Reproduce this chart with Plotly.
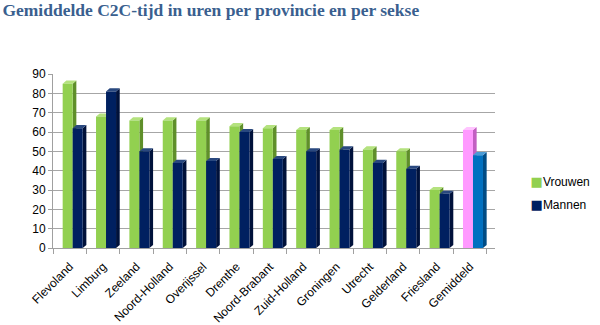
import plotly.graph_objects as go

provinces = ["Flevoland", "Limburg", "Zeeland", "Noord-Holland", "Overijssel", "Drenthe",
             "Noord-Brabant", "Zuid-Holland", "Groningen", "Utrecht", "Gelderland",
             "Friesland", "Gemiddeld"]
vrouwen = [85, 68, 66, 66, 66, 63, 62, 61, 61, 51, 50, 30, 61]
mannen = [62, 81, 50, 44, 45, 60, 46, 50, 51, 44, 41, 28, 48]
y_ticks = [0, 10, 20, 30, 40, 50, 60, 70, 80, 90]

# geometry of the pseudo-3D bars (category units / value units)
W = 0.30      # front face width
DX = 0.11     # depth offset to the right
DY = 1.6      # depth offset upwards
OFF_V = -0.21
OFF_M = 0.09

def faces(vals, idxs, off):
    fx, fy, sx, sy, tx, ty = [], [], [], [], [], []
    for i in idxs:
        v = vals[i]
        l = i + 0.5 + off
        r = l + W
        fx += [l, r, r, l, l, None]
        fy += [0, 0, v, v, 0, None]
        sx += [r, r + DX, r + DX, r, r, None]
        sy += [0, DY, v + DY, v, 0, None]
        tx += [l, r, r + DX, l + DX, l, None]
        ty += [v, v, v + DY, v + DY, v, None]
    return (fx, fy), (sx, sy), (tx, ty)

fig = go.Figure()

def add_series(vals, idxs, off, c_front, c_side, c_top):
    (fx, fy), (sx, sy), (tx, ty) = faces(vals, idxs, off)
    for (x, y, c) in [(sx, sy, c_side), (tx, ty, c_top), (fx, fy, c_front)]:
        fig.add_trace(go.Scatter(x=x, y=y, mode="lines", fill="toself", fillcolor=c,
                                 line=dict(width=0, color=c), hoverinfo="skip",
                                 showlegend=False))

n = len(provinces)
reg = list(range(n - 1))
avg = [n - 1]
add_series(vrouwen, reg, OFF_V, "#92D050", "#5F8F2A", "#B4E27E")
add_series(vrouwen, avg, OFF_V, "#FF99FF", "#C25FC2", "#FFC4FF")
add_series(mannen, reg, OFF_M, "#002060", "#00113A", "#29487F")
add_series(mannen, avg, OFF_M, "#0070C0", "#004C85", "#4A9BD6")

def legend_name(color, label):
    return ('<span style="color:%s;font-size:13px;font-family:DejaVu Sans">\u25A0</span>'
            '%s' % (color, label))

fig.add_trace(go.Scatter(x=[None], y=[None], mode="none", legendgroup="v",
                         name=legend_name("#92D050", "Vrouwen")))
fig.add_trace(go.Scatter(x=[None], y=[None], mode="none", legendgroup="m",
                         name=legend_name("#002060", "Mannen")))

centers = [i + 0.5 for i in range(n)]
bounds = list(range(n + 1))

fig.update_layout(
    width=600, height=325,
    margin=dict(l=53, r=105, t=74, b=77, autoexpand=False),
    paper_bgcolor="white", plot_bgcolor="white",
    title=dict(text="<b>Gemiddelde C2C-tijd in uren per provincie en per sekse</b>",
               font=dict(family="Liberation Serif", size=17.5, color="#3A5F8F"),
               x=0.004, xanchor="left", xref="container",
               y=0.99, yanchor="top", yref="container"),
    showlegend=True,
    legend=dict(x=0.99, xanchor="left", y=0.316, yanchor="middle",
                font=dict(family="Liberation Sans", size=12, color="#000000"),
                itemwidth=30, tracegroupgap=4, bgcolor="rgba(0,0,0,0)"),
    font=dict(family="Liberation Sans", size=12, color="#000000"),
)
fig.update_xaxes(
    range=[0, n + 0.25], tickmode="array", tickvals=centers, ticktext=provinces,
    tickangle=-45, ticks="", showgrid=False, zeroline=False, automargin=False,
    showline=True, linecolor="#A0A0A0", linewidth=1, ticklabelstandoff=6,
    tickfont=dict(family="Liberation Sans", size=12, color="#000000"),
    minor=dict(tickmode="array", tickvals=bounds, ticks="outside", ticklen=5,
               tickcolor="#A0A0A0", showgrid=False),
)
fig.update_yaxes(
    range=[0, 90], tickmode="array", tickvals=y_ticks, ticks="outside", ticklen=4,
    tickcolor="#A0A0A0", showgrid=True, gridcolor="#A6A6A6", gridwidth=1,
    zeroline=False, showline=True, linecolor="#A0A0A0", linewidth=1, automargin=False,
    tickfont=dict(family="Liberation Sans", size=12, color="#000000"),
)

fig.write_html("out.html")
